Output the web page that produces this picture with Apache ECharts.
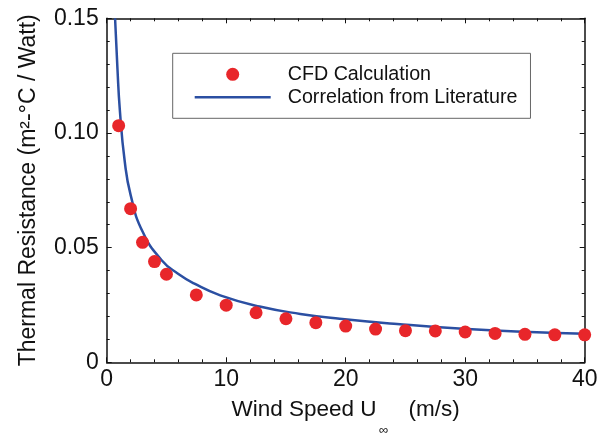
<!DOCTYPE html>
<html>
<head>
<meta charset="utf-8">
<script src="https://cdn.jsdelivr.net/npm/echarts@6/dist/echarts.min.js"></script>
<style>html,body{margin:0;padding:0;background:#fff;}#c{width:607px;height:433px;}</style>
</head>
<body>
<div id="c"></div>
<script>
// CFD calculation points: [wind speed (m/s), thermal resistance]
const cfdSpeed = [1, 2, 3, 4, 5, 7.5, 10, 12.5, 15, 17.5, 20, 22.5, 25, 27.5, 30, 32.5, 35, 37.5, 40];
const cfdResistance = [0.1032, 0.0670, 0.0523, 0.0439, 0.0384, 0.0294, 0.0249, 0.0216, 0.0190, 0.0173, 0.0158, 0.0145, 0.0138, 0.0137, 0.0132, 0.0126, 0.0122, 0.0120, 0.0120];
// Correlation curve
const corrSpeed = [0.7, 0.9, 1.1, 1.5, 2, 3, 4.6, 6, 7.3, 9.5, 12.8, 16.2, 19.5, 24.3, 29.8, 35.4, 40];
const corrResistance = [0.150, 0.128, 0.110, 0.088, 0.073, 0.057, 0.0445, 0.0385, 0.0344, 0.0292, 0.0243, 0.0211, 0.0190, 0.0167, 0.0146, 0.0132, 0.0125];
const seriesNames = ['CFD Calculation', 'Correlation from Literature'];
const xTicks = [0, 10, 20, 30, 40];
const yTicks = [0, 0.05, 0.10, 0.15];

const FONT = '"Liberation Sans", Arial, sans-serif';
const chart = echarts.init(document.getElementById('c'));
const axisLine = {show: true, onZero: false, lineStyle: {color: '#111', width: 1.5}};
const tick = {show: true, inside: true, length: 5, lineStyle: {color: '#111', width: 1}};
const minor = {show: true, splitNumber: 5, length: 3, lineStyle: {color: '#111', width: 1}};
chart.setOption({
  animation: false,
  backgroundColor: '#fff',
  grid: {left: 106.7, right: 22.3, top: 18.3, bottom: 70.7},
  xAxis: [{
    type: 'value', min: xTicks[0], max: xTicks[xTicks.length - 1], interval: 10,
    axisLine, axisTick: tick, minorTick: minor, splitLine: {show: false},
    axisLabel: {fontFamily: FONT, fontSize: 23, color: '#111', margin: 6},
    name: 'Wind Speed U{g|}(m/s)', nameLocation: 'middle', nameGap: 36,
    nameTextStyle: {fontFamily: FONT, fontSize: 22.5, color: '#111', rich: {g: {width: 32}}}
  }, {
    type: 'value', position: 'top', min: 0, max: 40, interval: 10,
    axisLine, axisTick: tick, minorTick: minor, splitLine: {show: false}, axisLabel: {show: false}
  }],
  yAxis: [{
    type: 'value', min: yTicks[0], max: yTicks[yTicks.length - 1], interval: 0.05,
    axisLine, axisTick: tick, minorTick: minor, splitLine: {show: false},
    axisLabel: {fontFamily: FONT, fontSize: 23, color: '#111', margin: 8,
      formatter: v => v === 0 ? '0' : v.toFixed(2)},
    name: 'Thermal Resistance (m²-°C / Watt)', nameLocation: 'middle', nameGap: 67,
    nameTextStyle: {fontFamily: FONT, fontSize: 23, color: '#111'}
  }, {
    type: 'value', position: 'right', min: 0, max: 0.15, interval: 0.05,
    axisLine, axisTick: tick, minorTick: minor, splitLine: {show: false}, axisLabel: {show: false}
  }],
  legend: {
    orient: 'vertical', left: 172.7, top: 53.3,
    padding: [11, 13, 11, 22], itemGap: 3, itemWidth: 76, itemHeight: 13,
    borderColor: '#666', borderWidth: 1, backgroundColor: '#fff',
    textStyle: {fontFamily: FONT, fontSize: 19.7, color: '#111', lineHeight: 20, padding: [0, 0, 0, 12]},
    data: [
      {name: seriesNames[0], icon: 'circle'},
      {name: seriesNames[1], icon: 'path://M0,0 L76,0 L76,2.5 L0,2.5 Z'}
    ]
  },
  graphic: [{type: 'text', left: 379, top: 424, style: {text: '∞', font: '13px ' + FONT, fill: '#111'}}],
  series: [{
    name: seriesNames[1], type: 'line', smooth: true, symbol: 'none',
    lineStyle: {color: '#2b4fa2', width: 2.5}, itemStyle: {color: '#2b4fa2'},
    data: corrSpeed.map((x, i) => [x, corrResistance[i]]), z: 2
  }, {
    name: seriesNames[0], type: 'scatter', symbol: 'circle', symbolSize: 13,
    itemStyle: {color: '#e8262a', opacity: 1},
    data: cfdSpeed.map((x, i) => [x, cfdResistance[i]]), z: 3
  }]
});
</script>
</body>
</html>
